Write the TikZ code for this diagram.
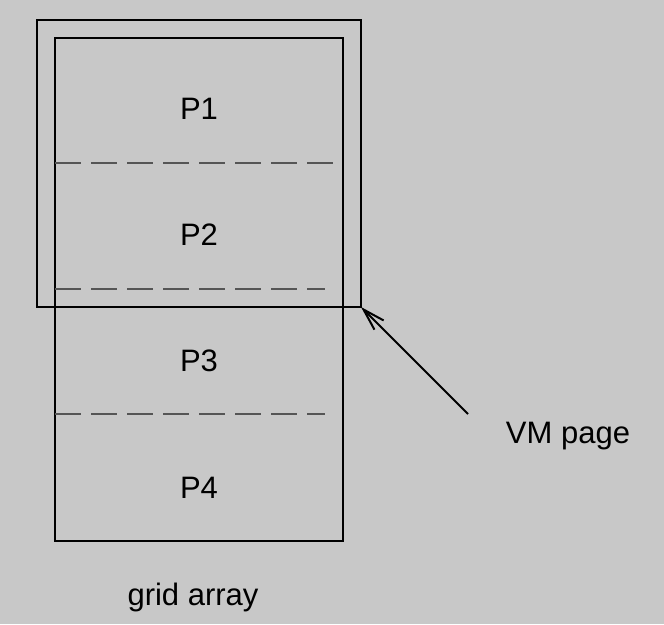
\documentclass[tikz,border=0pt]{standalone}
\usepackage{fontspec}
\setmainfont{Liberation Sans}
\usetikzlibrary{arrows.meta}
\definecolor{bggray}{RGB}{200,200,200}
\definecolor{dashgray}{RGB}{85,85,85}
\tikzset{
  box/.style={draw, line width=2.5pt, inner sep=0pt, outer sep=0pt},
  partline/.style={dashgray, line width=1.5pt, dash pattern=on 26pt off 10pt},
  lbl/.style={font=\fontsize{31}{37}\selectfont, inner sep=0pt}
}
\begin{document}
\begin{tikzpicture}[x=1pt, y=-1pt]
  \fill[bggray] (0,0) rectangle (664,624);
  \useasboundingbox (0,0) rectangle (664,624);

  \node[box, minimum width=324pt, minimum height=287pt] (vmpage) at (199,163.5) {};
  \node[box, minimum width=288pt, minimum height=503pt] (grid) at (199,289.5) {};

  \draw[partline] (grid.west |- 0,163) -- (334,163);
  \draw[partline] (grid.west |- 0,289) -- (325,289);
  \draw[partline] (grid.west |- 0,414) -- (325,414);

  \node[lbl] (p1) at (199,109) {P1};
  \node[lbl] (p2) at (199,235) {P2};
  \node[lbl] (p3) at (199,361) {P3};
  \node[lbl] (p4) at (199,488) {P4};

  \node[lbl] (vmlabel) at (568,436) {VM page};
  \node[lbl] (gridlabel) at (193,597) {grid array};

  \coordinate (vmtail) at (468,414);
  \draw[line width=2pt, -{Straight Barb[length=22pt, width=13pt]}] (vmtail) -- (vmpage.south east);
\end{tikzpicture}
\end{document}
